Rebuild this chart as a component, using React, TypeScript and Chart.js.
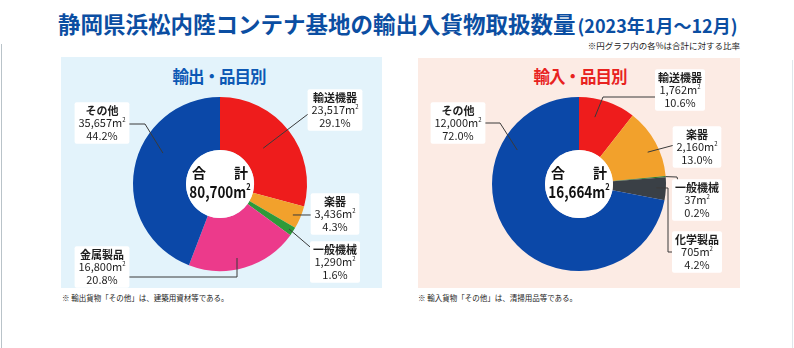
import { useEffect, useRef } from 'react';
import { Chart, registerables } from 'chart.js';

Chart.register(...registerables);

const W = 794;
const H = 348;
const FONT = '"Noto Sans CJK JP", "Noto Sans", sans-serif';

// ---- data ----
const exportCategories = ['輸送機器', '楽器', '一般機械', '金属製品', 'その他'];
const exportValues = [23517, 3436, 1290, 16800, 35657];
const exportColors = ['#ee1c1c', '#f2a12c', '#2e9a3a', '#ec3a8b', '#0b48a8'];

const importCategories = ['輸送機器', '楽器', '一般機械', '化学製品', 'その他'];
const importValues = [1762, 2160, 37, 705, 12000];
const importColors = ['#ee1c1c', '#f2a12c', '#2f7a2a', '#3a4046', '#0b48a8'];

// ---- label layout (text centre, leader path from box to slice, anchor within slice) ----
type LabelLayout = { cx: number; cy: number; path: [number, number][]; t: number; rf: number };

const exportLayout: LabelLayout[] = [
  { cx: 335, cy: 110, path: [[316, 108]], t: 0.48, rf: 0.645 },
  { cx: 335, cy: 214, path: [[318, 215]], t: 0.53, rf: 0.91 },
  { cx: 335, cy: 262, path: [[316, 252]], t: 0.5, rf: 0.95 },
  { cx: 102, cy: 267, path: [[124, 277], [237, 277]], t: 0.548, rf: 0.873 },
  { cx: 102, cy: 123, path: [[124, 124], [145, 124]], t: 0.613, rf: 0.746 },
];

const importLayout: LabelLayout[] = [
  { cx: 680, cy: 90, path: [[660, 97], [603, 97]], t: 0.35, rf: 0.79 },
  { cx: 697, cy: 147, path: [[682, 143]], t: 0.58, rf: 0.87 },
  { cx: 697, cy: 200, path: [[680, 189], [677, 177]], t: 0.5, rf: 1.0 },
  { cx: 697, cy: 252, path: [[678, 252], [668, 252], [668, 188]], t: 0.48, rf: 0.89 },
  { cx: 458, cy: 123, path: [[480, 123], [500, 123]], t: 0.764, rf: 0.81 },
];

const fmt = (v: number) => v.toLocaleString('en-US');

function drawM2(
  ctx: CanvasRenderingContext2D,
  num: string,
  x: number,
  y: number,
  size: number,
  weight: string,
  scaleX = 1
) {
  ctx.save();
  ctx.translate(x, y);
  ctx.scale(scaleX, 1);
  ctx.font = `${weight} ${size}px ${FONT}`;
  const main = num + 'm';
  const wMain = ctx.measureText(main).width;
  const supSize = Math.round(size * 0.55);
  ctx.font = `${weight} ${supSize}px ${FONT}`;
  const wSup = ctx.measureText('2').width;
  const total = wMain + wSup;
  const left = -total / 2;
  ctx.textAlign = 'left';
  ctx.textBaseline = 'middle';
  ctx.font = `${weight} ${size}px ${FONT}`;
  ctx.fillText(main, left, 0);
  ctx.font = `${weight} ${supSize}px ${FONT}`;
  ctx.fillText('2', left + wMain, -size * 0.32);
  ctx.restore();
  return total * scaleX;
}

function makePlugin(categories: string[], values: number[], layout: LabelLayout[]) {
  const total = values.reduce((a, b) => a + b, 0);
  return {
    id: 'pieLabels',
    afterDatasetsDraw(chart: any) {
      const ctx: CanvasRenderingContext2D = chart.ctx;
      const arcs = chart.getDatasetMeta(0).data as any[];
      if (!arcs.length) return;
      const c = arcs[0];
      ctx.save();
      // white centre
      ctx.fillStyle = '#ffffff';
      ctx.beginPath();
      ctx.arc(c.x, c.y, c.innerRadius, 0, Math.PI * 2);
      ctx.fill();
      // leaders
      ctx.strokeStyle = '#3a3a3a';
      ctx.lineWidth = 1;
      arcs.forEach((arc, i) => {
        const L = layout[i];
        const a = arc.startAngle + L.t * (arc.endAngle - arc.startAngle);
        const r = L.rf * arc.outerRadius;
        const ax = arc.x + r * Math.cos(a);
        const ay = arc.y + r * Math.sin(a);
        ctx.beginPath();
        ctx.moveTo(L.path[0][0], L.path[0][1]);
        for (let k = 1; k < L.path.length; k++) ctx.lineTo(L.path[k][0], L.path[k][1]);
        ctx.lineTo(ax, ay);
        ctx.stroke();
      });
      // label boxes and text
      const size = 11;
      const lh = 12.5;
      arcs.forEach((_arc, i) => {
        const L = layout[i];
        const name = categories[i];
        const val = fmt(values[i]);
        const pct = ((values[i] / total) * 100).toFixed(1) + '%';
        ctx.font = `bold ${size}px ${FONT}`;
        const w1 = ctx.measureText(name).width;
        ctx.font = `${size}px ${FONT}`;
        const w2 = ctx.measureText(val + 'm').width + 5;
        const w3 = ctx.measureText(pct).width;
        const bw = Math.max(w1, w2, w3) + 6;
        const bh = lh * 3 + 4;
        ctx.fillStyle = '#ffffff';
        ctx.beginPath();
        (ctx as any).roundRect(L.cx - bw / 2, L.cy - bh / 2, bw, bh, 2);
        ctx.fill();
        ctx.fillStyle = '#1e1e1e';
        ctx.textAlign = 'center';
        ctx.textBaseline = 'middle';
        ctx.font = `bold ${size}px ${FONT}`;
        ctx.fillText(name, L.cx, L.cy - lh);
        drawM2(ctx, val, L.cx, L.cy, size, 'normal');
        ctx.textAlign = 'center';
        ctx.font = `${size}px ${FONT}`;
        ctx.fillText(pct, L.cx, L.cy + lh);
      });
      // centre text
      ctx.fillStyle = '#111111';
      ctx.textAlign = 'center';
      ctx.textBaseline = 'middle';
      ctx.font = `bold 14px ${FONT}`;
      ctx.fillText('合　　計', c.x, c.y - 11);
      drawM2(ctx, fmt(total), c.x, c.y + 8, 16, 'bold', 0.84);
      ctx.restore();
    },
  };
}

function PieCanvas(props: {
  categories: string[];
  values: number[];
  colors: string[];
  layout: LabelLayout[];
  centerX: number;
  centerY: number;
  radius: number;
  hole: number;
}) {
  const ref = useRef<HTMLCanvasElement | null>(null);
  useEffect(() => {
    const canvas = ref.current;
    if (!canvas) return;
    const { categories, values, colors, layout, centerX, centerY, radius, hole } = props;
    const chart = new Chart(canvas, {
      type: 'doughnut',
      data: {
        labels: categories,
        datasets: [
          {
            data: values,
            backgroundColor: colors,
            borderColor: colors,
            borderWidth: 0,
          },
        ],
      },
      options: {
        responsive: false,
        animation: false,
        devicePixelRatio: 1,
        radius: radius,
        cutout: hole,
        layout: {
          padding: {
            left: centerX - radius,
            right: W - (centerX + radius),
            top: centerY - radius,
            bottom: H - (centerY + radius),
          },
        },
        plugins: {
          legend: { display: false },
          tooltip: { enabled: false },
          title: { display: false },
        },
      } as any,
      plugins: [makePlugin(categories, values, layout)],
    });
    return () => chart.destroy();
  }, []);
  return (
    <canvas
      ref={ref}
      width={W}
      height={H}
      style={{ position: 'absolute', left: 0, top: 0, width: W, height: H }}
    />
  );
}

const panelTitle = (color: string, left: number) => ({
  position: 'absolute' as const,
  left,
  width: 200,
  top: 64,
  height: 24,
  lineHeight: '24px',
  textAlign: 'center' as const,
  fontSize: 16.5,
  letterSpacing: '-1px',
  fontWeight: 'bold',
  color,
});

export default function App() {
  return (
    <div
      style={{
        position: 'absolute',
        left: 0,
        top: 0,
        width: W,
        height: H,
        background: '#ffffff',
        overflow: 'hidden',
        fontFamily: FONT,
      }}
    >
      {/* scan edges */}
      <div style={{ position: 'absolute', left: 1, top: 44, width: 1, height: 304, background: '#b9c3c9' }} />
      <div style={{ position: 'absolute', left: 792, top: 60, width: 1, height: 288, background: '#dfe6ea' }} />

      {/* title */}
      <div
        style={{
          position: 'absolute',
          left: 58,
          top: 7,
          height: 32,
          lineHeight: '32px',
          whiteSpace: 'nowrap',
          color: '#0b4ea2',
          fontWeight: 'bold',
        }}
      >
        <span style={{ fontSize: 22.5 }}>静岡県浜松内陸コンテナ基地の輸出入貨物取扱数量</span>
        <span style={{ fontSize: 18, marginLeft: 2 }}>(2023年1月～12月)</span>
      </div>
      <div
        style={{
          position: 'absolute',
          right: 54,
          top: 38,
          height: 14,
          lineHeight: '14px',
          fontSize: 8.5,
          color: '#222',
          whiteSpace: 'nowrap',
        }}
      >
        ※円グラフ内の各%は合計に対する比率
      </div>

      {/* panels */}
      <div style={{ position: 'absolute', left: 61, top: 57, width: 321, height: 231, background: '#e3f3fb' }} />
      <div style={{ position: 'absolute', left: 418, top: 58, width: 322, height: 230, background: '#fcebe4' }} />

      <div style={panelTitle('#0d58b4', 119)}>輸出・品目別</div>
      <div style={panelTitle('#e8221e', 480)}>輸入・品目別</div>

      <div
        style={{ position: 'absolute', left: 62, top: 292, fontSize: 7.5, lineHeight: '12px', color: '#222', whiteSpace: 'nowrap' }}
      >
        ※ 輸出貨物「その他」は、建築用資材等である。
      </div>
      <div
        style={{ position: 'absolute', left: 418, top: 292, fontSize: 7.5, lineHeight: '12px', color: '#222', whiteSpace: 'nowrap' }}
      >
        ※ 輸入貨物「その他」は、清掃用品等である。
      </div>

      <PieCanvas
        categories={exportCategories}
        values={exportValues}
        colors={exportColors}
        layout={exportLayout}
        centerX={220}
        centerY={184}
        radius={87}
        hole={34}
      />
      <PieCanvas
        categories={importCategories}
        values={importValues}
        colors={importColors}
        layout={importLayout}
        centerX={579}
        centerY={184}
        radius={87}
        hole={34}
      />
    </div>
  );
}
